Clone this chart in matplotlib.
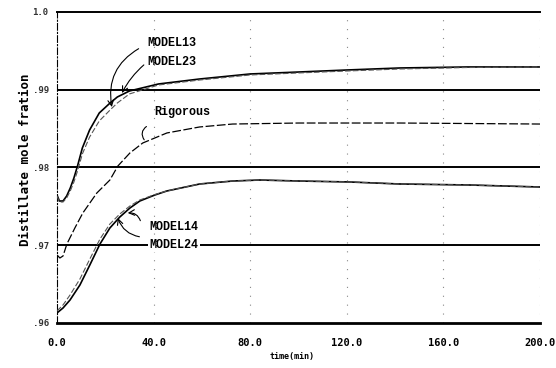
import matplotlib.pyplot as plt

# time axis (min) and distillate compositions read for each model
t_m13 = [0, 1, 2.5, 4, 5.5, 7, 8.5, 10.5, 13.5, 17.5, 22, 25, 30, 42, 59, 80, 100, 120, 142, 170, 200]
x_m13 = [0.97646, 0.97569, 0.97569, 0.97633, 0.97736, 0.97865, 0.98019, 0.98251, 0.98482, 0.98701,
         0.98830, 0.98907, 0.98984, 0.99074, 0.99138, 0.99203, 0.99228, 0.99254, 0.99280, 0.99293, 0.99293]
x_m23 = [0.97633, 0.97556, 0.97556, 0.97608, 0.97698, 0.97813, 0.97955, 0.98174, 0.98392, 0.98598,
         0.98740, 0.98830, 0.98946, 0.99061, 0.99125, 0.99190, 0.99216, 0.99241, 0.99267, 0.99286, 0.99293]

t_rig = [0, 1.2, 2.5, 4.1, 7.4, 10.7, 16.5, 21.9, 25.2, 30.2, 35.5, 45.5, 59, 72.7, 100, 142, 200]
x_rig = [0.96875, 0.96836, 0.96862, 0.97016, 0.97222, 0.97415, 0.97672, 0.97839, 0.98019, 0.98187,
         0.98315, 0.98444, 0.98521, 0.98559, 0.98572, 0.98572, 0.98559]

t_m14 = [0, 2.5, 5.4, 9.5, 13.6, 17.8, 21.9, 26.0, 30.2, 34.3, 40.5, 45.5, 59.1, 72.7, 83.9, 100.4, 121, 141.7, 170.7, 200]
x_m14 = [0.96129, 0.96193, 0.96296, 0.96489, 0.96746, 0.97016, 0.97222, 0.97363, 0.97479, 0.97569,
         0.97646, 0.97698, 0.97788, 0.97826, 0.97839, 0.97826, 0.97814, 0.97788, 0.97775, 0.97749]
x_m24 = [0.96155, 0.96232, 0.96360, 0.96566, 0.96823, 0.97080, 0.97273, 0.97402, 0.97505, 0.97582,
         0.97652, 0.97698, 0.97788, 0.97826, 0.97839, 0.97826, 0.97814, 0.97788, 0.97775, 0.97749]

y_ticks = [0.96, 0.97, 0.98, 0.99, 1.00]
y_tick_labels = ['.96', '.97', '.98', '.99', '1.0']
x_ticks = [0, 40, 80, 120, 160, 200]
x_tick_labels = ['0.0', '40.0', '80.0', '120.0', '160.0', '200.0']

mono = 'DejaVu Sans Mono'
serif_mono = 'Liberation Mono'

fig = plt.figure(figsize=(5.56, 3.68), dpi=100)
ax = fig.add_axes([0.1025, 0.1223, 0.8687, 0.8451])
ax.set_xlim(0, 200)
ax.set_ylim(0.96, 1.0)

# horizontal reference lines are solid, vertical ones are sparse dots
for yv in y_ticks[1:4]:
    ax.axhline(yv, color='black', lw=1.4, zorder=1)
for xv in x_ticks[1:]:
    ax.axvline(xv, color='#888888', lw=0.8, ls=(0, (1, 7)), zorder=1)

ax.plot(t_m13, x_m13, color='black', lw=1.2, zorder=3)
ax.plot(t_m13, x_m23, color='#555555', lw=0.8, ls=(0, (5, 2)), zorder=3)
ax.plot(t_rig, x_rig, color='black', lw=0.9, ls=(0, (7, 2)), zorder=3)
ax.plot(t_m14, x_m14, color='black', lw=1.2, zorder=3)
ax.plot(t_m14, x_m24, color='#555555', lw=0.8, ls=(0, (5, 2)), zorder=3)

# curve labels with wavy leaders
lbl = dict(fontsize=8.5, fontweight='bold', family=serif_mono, va='center', ha='left')
arrow = dict(arrowstyle='->', color='black', lw=0.8, shrinkA=1, shrinkB=0)
ax.text(37.6, 0.99601, 'MODEL13', **lbl)
ax.text(37.6, 0.99357, 'MODEL23', **lbl)
ax.text(40.1, 0.98714, 'Rigorous', **lbl)
ax.text(38.4, 0.97235, 'MODEL14', **lbl)
ax.text(38.4, 0.97003, 'MODEL24', zorder=4,
        bbox=dict(facecolor='white', edgecolor='none', pad=1), **lbl)
ax.annotate('', xy=(22.7, 0.98778), xytext=(34.3, 0.99537),
            arrowprops=dict(connectionstyle='arc3,rad=0.35', **arrow))
ax.annotate('', xy=(26.9, 0.98958), xytext=(36.4, 0.99331),
            arrowprops=dict(connectionstyle='arc3,rad=0.1', **arrow))
ax.annotate('', xy=(36.8, 0.98328), xytext=(38.0, 0.98547),
            arrowprops=dict(arrowstyle='-', color='black', lw=0.8,
                            connectionstyle='arc3,rad=0.6'))
ax.annotate('', xy=(29.3, 0.97415), xytext=(34.7, 0.97299),
            arrowprops=dict(connectionstyle='arc3,rad=0.4', **arrow))
ax.annotate('', xy=(25.2, 0.97350), xytext=(34.7, 0.97106),
            arrowprops=dict(connectionstyle='arc3,rad=-0.3', **arrow))

# frame: solid top/bottom, dash-dot left axis
ax.spines['top'].set_linewidth(1.4)
ax.spines['bottom'].set_linewidth(2.0)
ax.spines['left'].set_linewidth(0.8)
ax.spines['left'].set_linestyle((0, (6, 2, 1, 2)))
ax.spines['right'].set_visible(False)

ax.set_xticks(x_ticks)
ax.set_xticklabels(x_tick_labels, fontsize=7.5, fontweight='bold', family=mono)
ax.set_yticks(y_ticks)
ax.set_yticklabels(y_tick_labels, fontsize=6.5, fontweight='bold', family=mono, color='#333333')
ax.tick_params(length=0)
ax.tick_params(axis='x', pad=11)
ax.tick_params(axis='y', pad=6)

fig.text(0.045, 0.565, 'Distillate mole fration', rotation=90, ha='center', va='center',
         fontsize=9, fontweight='bold', family=mono)
fig.text(0.525, 0.03, 'time(min)', ha='center', va='center',
         fontsize=6, fontweight='bold', family=mono)

fig.savefig('out.png', dpi=100)
